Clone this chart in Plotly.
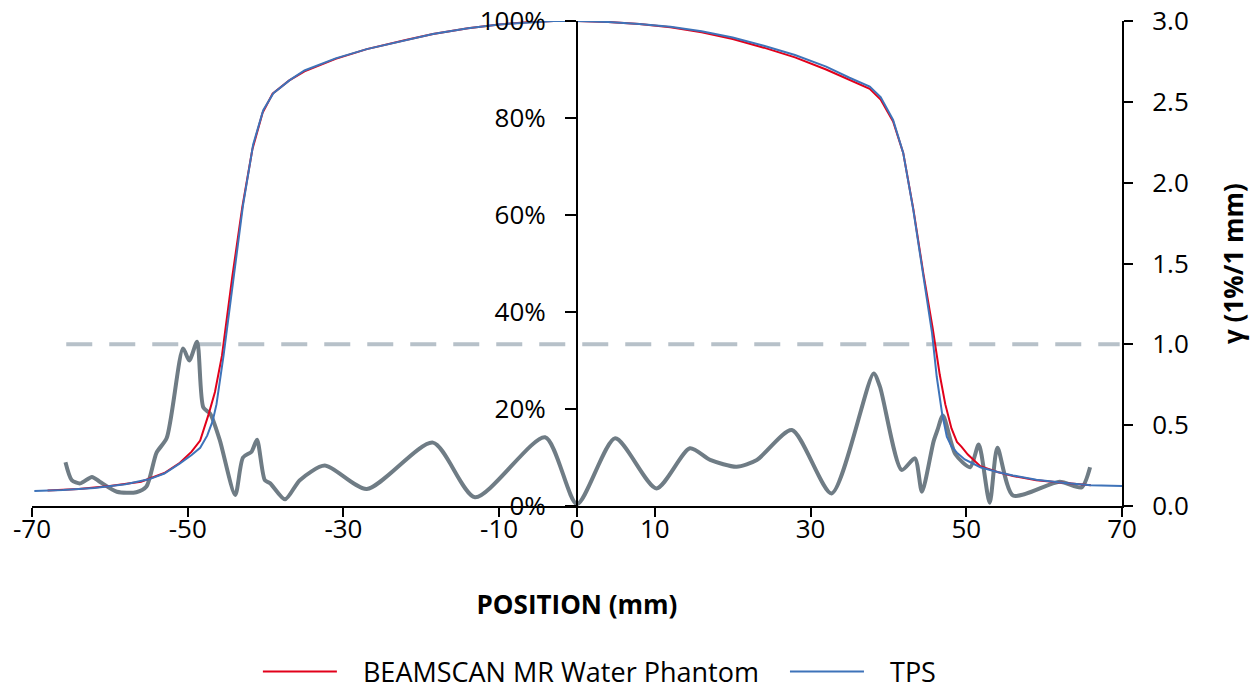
import plotly.graph_objects as go

# ---- data ----
tps_x = [-69.7, -66, -62, -58, -55, -53, -51, -49.5, -48.4, -47.5, -46.8, -46.3, -45.4, -44.1, -42.9,
         -41.6, -40.3, -39.0, -36.9, -35.0, -31, -27, -22, -18.5, -14, -10, -6, -3, 0, 4, 8, 12, 16,
         20, 24, 28, 32, 35, 37.6, 39.0, 40.6, 41.9, 43.2, 44.5, 45.6, 46.2, 46.9, 47.5, 48.1, 48.8,
         49.8, 51.8, 54, 56, 59, 62.4, 66, 70]
tps_y = [3.1, 3.3, 3.7, 4.5, 5.5, 6.7, 8.8, 10.5, 12.0, 14.5, 17.5, 21, 31, 47, 62,
         74.5, 81.6, 85.1, 87.8, 89.8, 92.3, 94.2, 96.1, 97.3, 98.5, 99.3, 99.7, 100, 100, 99.8, 99.4, 98.8, 97.9,
         96.6, 94.9, 93.0, 90.6, 88.3, 86.5, 84.3, 79.6, 72.8, 61, 47.3, 35.7, 26.7, 19, 14.3, 12.3, 11.0,
         9.6, 8.0, 7.0, 6.3, 5.4, 4.8, 4.3, 4.1]

meas_x = [-68, -64, -60, -56, -53, -51, -49.5, -48.4, -47.3, -46.5, -45.6, -44.3, -43.0, -41.7, -40.4,
          -39.1, -37, -35, -31, -27, -22, -18.5, -14, -10, -6, -3, 0, 4, 8, 12, 16, 20, 24, 28, 32, 35,
          37.6, 39.0, 40.6, 41.9, 43.2, 44.5, 45.7, 46.6, 47.3, 48.1, 48.8, 49.4, 50.2, 51.8, 54, 56, 59,
          62.4, 66]
meas_y = [3.2, 3.5, 4.1, 5.0, 6.8, 8.9, 11.2, 13.5, 19, 23.5, 31, 47, 61.5, 73.5, 81,
          85, 87.7, 89.6, 92.2, 94.2, 96.1, 97.3, 98.5, 99.3, 99.8, 100, 100, 99.8, 99.4, 98.7, 97.7, 96.3,
          94.5, 92.5, 90.0, 87.8, 86, 83.8, 79.3, 72.8, 61.2, 47.8, 36.5, 27, 21, 16, 13.2, 12.2, 10.6,
          8.2, 7.0, 6.2, 5.3, 4.8, 4.3]

gamma_x = [-65.7, -64.9, -63.8, -62.3, -61.3, -59.1, -56.6, -55.3, -54.0, -52.7, -50.6, -49.8, -48.8,
           -48.0, -47.1, -45.9, -43.9, -42.9, -41.8, -41.1, -40.1, -39.4, -37.5, -35.6, -32.4, -27.0,
           -18.5, -13.1, -4.1, 0.0, 4.9, 10.2, 14.5, 17.1, 20.5, 23.1, 27.6, 32.7, 38.1, 38.9, 41.7,
           43.4, 44.3, 45.8, 46.3, 47.0, 48.6, 50.5, 51.6, 53.0, 54.0, 56.0, 62.0, 64.8, 65.9]
gamma_y = [0.27, 0.16, 0.14, 0.18, 0.15, 0.088, 0.085, 0.12, 0.33, 0.42, 0.975, 0.90, 1.016,
           0.61, 0.57, 0.41, 0.068, 0.30, 0.336, 0.41, 0.16, 0.14, 0.041, 0.16, 0.25, 0.105,
           0.392, 0.054, 0.425, 0.012, 0.419, 0.109, 0.357, 0.285, 0.243, 0.285, 0.47, 0.078, 0.82, 0.74, 0.223,
           0.295, 0.088, 0.40, 0.47, 0.56, 0.32, 0.24, 0.38, 0.02, 0.36, 0.065, 0.15, 0.115, 0.24]

threshold_x = [-65.6, 69.7]
threshold_y = [1.0, 1.0]

x_ticks = [-70, -50, -30, -10, 0, 10, 30, 50, 70]
pct_ticks = [0, 20, 40, 60, 80, 100]
pct_labels = ["0%", "20%", "40%", "60%", "80%", "100%"]
gamma_ticks = [0, 0.5, 1.0, 1.5, 2.0, 2.5, 3.0]

FONT = "Open Sans"
NB = "\u00a0"

fig = go.Figure()
fig.add_trace(go.Scatter(x=threshold_x, y=threshold_y, mode="lines", yaxis="y", showlegend=False,
                         line=dict(color="#b7c1c9", width=4, dash="26px,17px"), hoverinfo="skip"))
fig.add_trace(go.Scatter(x=gamma_x, y=gamma_y, mode="lines", yaxis="y", showlegend=False,
                         line=dict(color="#6f7c85", width=4, shape="spline", smoothing=0.7)))
fig.add_trace(go.Scatter(x=meas_x, y=meas_y, mode="lines", yaxis="y2",
                         name=NB * 3 + "BEAMSCAN MR Water Phantom" + NB * 3,
                         line=dict(color="#e2001a", width=2)))
fig.add_trace(go.Scatter(x=tps_x, y=tps_y, mode="lines", yaxis="y2", name=NB * 3 + "TPS",
                         line=dict(color="#3e73b9", width=2)))

fig.update_layout(
    width=1256, height=690, autosize=False,
    margin=dict(l=32, r=134, t=21, b=184),
    paper_bgcolor="white", plot_bgcolor="white",
    font=dict(family=FONT, size=26, color="black"),
    xaxis=dict(range=[-70, 70], tickvals=x_ticks, ticktext=[str(v) for v in x_ticks],
               showline=True, linecolor="black", linewidth=2, ticks="outside", ticklen=9,
               tickwidth=2, tickcolor="black", showgrid=False, zeroline=False, automargin=False,
               tickfont=dict(size=26), ticklabelstandoff=-10,
               title=dict(text="<b>POSITION (mm)</b>", font=dict(size=26), standoff=51)),
    yaxis=dict(range=[0, 3], tickvals=gamma_ticks, tickformat=".1f", side="right", anchor="x",
               showline=True, linecolor="black", linewidth=2, ticks="outside", ticklen=9,
               tickwidth=2, tickcolor="black", showgrid=False, zeroline=False, automargin=False,
               ticklabelstandoff=14, tickfont=dict(size=26),
               title=dict(text="<b>γ (1%/1 mm)</b>", font=dict(size=26), standoff=37)),
    yaxis2=dict(range=[0, 100], tickvals=pct_ticks, ticktext=pct_labels, overlaying="y", side="left",
                anchor="free", position=0.5, automargin=False,
                showline=True, linecolor="black", linewidth=2, ticks="outside", ticklen=11,
                tickwidth=2, tickcolor="black", showgrid=False, zeroline=False,
                ticklabelstandoff=14, tickfont=dict(size=26)),
    legend=dict(orientation="h", x=0.521, xanchor="center", yref="container", y=0.026,
                yanchor="middle", font=dict(size=27), itemwidth=74, bgcolor="rgba(0,0,0,0)"),
)

fig.write_html("out.html")
